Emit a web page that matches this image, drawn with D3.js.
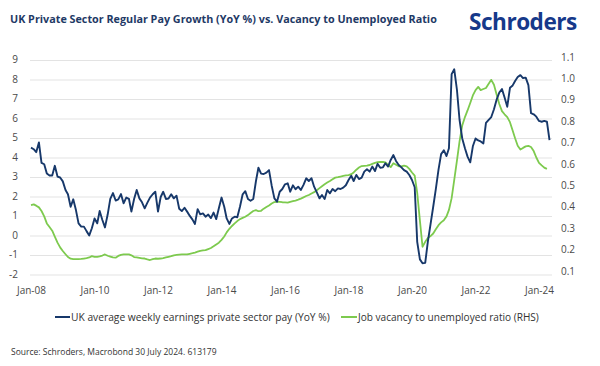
<!DOCTYPE html>
<html>
<head>
<meta charset="utf-8">
<script src="https://cdn.jsdelivr.net/npm/d3@7"></script>
<style>
  html, body { margin: 0; padding: 0; background: #fff; }
  svg { display: block; font-family: "Open Sans", "Noto Sans", sans-serif; }
</style>
</head>
<body>
<svg id="chart" width="600" height="366"></svg>
<script>
// ---------------- DATA ----------------
const startMonth = "2008-01";  // first observation (monthly series)
const payGrowth = [
  4.53, 4.45, 4.3, 4.8, 3.75, 3.68, 3.2, 3.1, 3.1, 3.6, 3.05, 3.0,
  2.8, 2.36, 2.14, 1.5, 1.88, 1.33, 0.65, 0.48, 0.48, 0.25, 0.03, 0.4,
  0.9, 0.65, 1.28, 0.82, 0.44, 1.1, 1.9, 2.2, 1.82, 1.88, 2.15, 1.68,
  1.97, 1.9, 1.25, 1.9, 2.36, 1.93, 1.73, 1.42, 1.71, 1.97, 2.14, 2.27,
  1.25, 2.0, 2.27, 1.9, 1.92, 2.14, 1.93, 2.07, 1.4, 1.28, 1.45, 1.25,
  1.03, 0.84, 0.62, 1.38, 1.11, 1.16, 0.99, 1.1, 0.92, 1.2, 0.87, 1.42,
  1.97, 1.5, 0.9, 0.62, 0.9, 0.99, 0.96, 1.5, 2.14, 2.3, 1.9, 1.81,
  1.9, 2.82, 3.5, 3.2, 3.18, 3.25, 3.38, 2.58, 1.93, 1.76, 2.27, 2.41,
  2.65, 2.7, 2.27, 2.6, 2.4, 2.53, 2.36, 2.62, 2.96, 2.82, 2.96, 2.53,
  2.24, 1.93, 2.1, 1.9, 2.36, 2.19, 2.41, 2.3, 2.44, 2.41, 2.48, 2.6,
  2.87, 3.09, 2.82, 3.13, 2.92, 2.99, 3.3, 3.42, 3.3, 3.56, 3.33, 3.7,
  3.5, 3.52, 3.73, 3.56, 3.9, 4.15, 3.85, 3.64, 3.52, 3.38, 3.3, 3.13,
  2.87, 2.5, -0.3, -1.2, -1.4, -1.38, -0.3, 0.6, 1.5, 2.4, 3.4, 4.2,
  4.4, 4.1, 4.5, 8.3, 8.55, 7.5, 5.95, 5.0, 4.5, 4.07, 3.78, 4.6,
  5.0, 4.9, 4.85, 4.75, 5.8, 5.95, 6.1, 6.5, 7.0, 7.35, 7.54, 7.1,
  6.63, 7.6, 7.7, 7.95, 8.15, 8.25, 8.1, 8.12, 7.74, 6.3, 6.24, 6.12,
  5.9, 5.86, 5.9, 5.86, 4.92
];
const vacancyRatio = [
  0.413, 0.416, 0.41, 0.402, 0.385, 0.36, 0.327, 0.31, 0.293, 0.265, 0.237, 0.215,
  0.198, 0.183, 0.17, 0.162, 0.16, 0.16, 0.16, 0.161, 0.163, 0.165, 0.168, 0.174,
  0.171, 0.171, 0.173, 0.177, 0.182, 0.176, 0.172, 0.168, 0.167, 0.175, 0.18, 0.182,
  0.182, 0.182, 0.178, 0.17, 0.168, 0.166, 0.164, 0.163, 0.159, 0.156, 0.16, 0.163,
  0.162, 0.163, 0.165, 0.168, 0.171, 0.174, 0.178, 0.18, 0.181, 0.182, 0.182, 0.182,
  0.185, 0.188, 0.191, 0.195, 0.199, 0.201, 0.202, 0.207, 0.212, 0.22, 0.229, 0.237,
  0.25, 0.266, 0.285, 0.302, 0.315, 0.327, 0.338, 0.347, 0.353, 0.358, 0.366, 0.376,
  0.385, 0.389, 0.384, 0.386, 0.396, 0.404, 0.411, 0.42, 0.427, 0.428, 0.428, 0.426,
  0.425, 0.424, 0.428, 0.431, 0.434, 0.438, 0.443, 0.449, 0.455, 0.46, 0.467, 0.473,
  0.482, 0.492, 0.501, 0.51, 0.518, 0.525, 0.533, 0.541, 0.543, 0.546, 0.549, 0.551,
  0.553, 0.557, 0.565, 0.578, 0.588, 0.595, 0.596, 0.597, 0.6, 0.605, 0.61, 0.613,
  0.615, 0.614, 0.612, 0.6, 0.59, 0.608, 0.601, 0.594, 0.594, 0.597, 0.594, 0.582,
  0.565, 0.55, 0.47, 0.34, 0.218, 0.241, 0.259, 0.268, 0.28, 0.3, 0.319, 0.332,
  0.342, 0.36, 0.39, 0.445, 0.53, 0.62, 0.71, 0.785, 0.824, 0.855, 0.89, 0.925,
  0.95, 0.965, 0.95, 0.955, 0.96, 0.98, 0.998, 0.975, 0.928, 0.885, 0.852, 0.837,
  0.824, 0.8, 0.765, 0.725, 0.69, 0.672, 0.68, 0.687, 0.689, 0.684, 0.665, 0.635,
  0.61, 0.598, 0.588, 0.582
];
const leftTicks = [-2, -1, 0, 1, 2, 3, 4, 5, 6, 7, 8, 9];
const rightTicks = [0.1, 0.2, 0.3, 0.4, 0.5, 0.6, 0.7, 0.8, 0.9, 1.0, 1.1];
const xTickYears = [2008, 2010, 2012, 2014, 2016, 2018, 2020, 2022, 2024];
const seriesNames = [
  "UK average weekly earnings private sector pay (YoY %)",
  "Job vacancy to unemployed ratio (RHS)"
];
const titleText = "UK Private Sector Regular Pay Growth (YoY %) vs. Vacancy to Unemployed Ratio";
const logoText = "Schroders";
const sourceText = "Source: Schroders, Macrobond 30 July 2024. 613179";

// ---------------- STYLE ----------------
const NAVY = "#17386a";
const GREEN = "#7dca4e";
const GRID = "#e3e3e3";
const TXT = "#4a4a4a";

const svg = d3.select("#chart");
const parse = d3.timeParse("%Y-%m");
const t0 = parse(startMonth);
const dateAt = i => d3.timeMonth.offset(t0, i);

const x = d3.scaleTime()
  .domain([new Date(2008, 0, 1), new Date(2024, 0, 1)])
  .range([31, 539]);
const yL = d3.scaleLinear().domain([-2, 9]).range([275, 60.5]);
const yR = d3.scaleLinear().domain([0.1, 1.1]).range([272, 58]);

const gridX0 = 30, gridX1 = 552;

function fit(sel, target) {
  const node = sel.node();
  const fs = parseFloat(sel.attr("font-size"));
  const w = node.getComputedTextLength();
  if (w > 0) sel.attr("font-size", (fs * target / w).toFixed(2));
  return sel;
}

// gridlines
svg.append("g").selectAll("line").data(leftTicks).join("line")
  .attr("x1", gridX0).attr("x2", gridX1)
  .attr("y1", d => yL(d)).attr("y2", d => yL(d))
  .attr("stroke", GRID).attr("stroke-width", 1);

// left axis
const gL = svg.append("g").attr("transform", `translate(${gridX0},0)`)
  .call(d3.axisLeft(yL).tickValues(leftTicks).tickSize(0).tickPadding(12)
    .tickFormat(d => String(d)));
gL.select(".domain").remove();
gL.selectAll("text").attr("font-size", 10).attr("fill", TXT)
  .attr("font-family", "'Open Sans', sans-serif").attr("dy", "0.2em");

// right axis
const gR = svg.append("g").attr("transform", `translate(${gridX1},0)`)
  .call(d3.axisRight(yR).tickValues(rightTicks).tickSize(0).tickPadding(9)
    .tickFormat(d3.format(".1f")));
gR.select(".domain").remove();
gR.selectAll("text").attr("font-size", 10).attr("fill", TXT)
  .attr("font-family", "'Open Sans', sans-serif").attr("dy", "0.2em");

// x axis
const gX = svg.append("g").attr("transform", "translate(0,283)")
  .call(d3.axisBottom(x).tickValues(xTickYears.map(yv => new Date(yv, 0, 1)))
    .tickSize(0).tickPadding(0).tickFormat(d3.timeFormat("%b-%y")));
gX.select(".domain").remove();
gX.selectAll("text").attr("font-size", 10).attr("fill", TXT)
  .attr("font-family", "'Open Sans', sans-serif").attr("y", 7).attr("dy", "0.35em");

// lines
const lineL = d3.line().x((d, i) => x(dateAt(i))).y(d => yL(d));
const lineR = d3.line().x((d, i) => x(dateAt(i))).y(d => yR(d));

svg.append("path").datum(vacancyRatio)
  .attr("d", lineR).attr("fill", "none")
  .attr("stroke", GREEN).attr("stroke-width", 1.8).attr("stroke-linejoin", "round");
svg.append("path").datum(payGrowth)
  .attr("d", lineL).attr("fill", "none")
  .attr("stroke", NAVY).attr("stroke-width", 1.9).attr("stroke-linejoin", "round");

// title
fit(svg.append("text").attr("x", 10).attr("y", 22.5)
  .attr("font-size", 11).attr("font-weight", 700).attr("fill", "#1f3a66")
  .attr("font-family", "'Open Sans', sans-serif")
  .text(titleText), 427);

// logo
fit(svg.append("text").attr("x", 469).attr("y", 30)
  .attr("font-size", 24).attr("font-weight", 700).attr("fill", "#16398a")
  .attr("font-family", "'Open Sans', sans-serif").attr("letter-spacing", "-0.5")
  .text(logoText), 108);

// legend
const legend = [
  { name: seriesNames[0], color: NAVY, x0: 55, x1: 70, tx: 71, w: 259 },
  { name: seriesNames[1], color: GREEN, x0: 341, x1: 357, tx: 358, w: 181 }
];
legend.forEach(l => {
  svg.append("line").attr("x1", l.x0).attr("x2", l.x1).attr("y1", 317).attr("y2", 317)
    .attr("stroke", l.color).attr("stroke-width", 2);
  fit(svg.append("text").attr("x", l.tx).attr("y", 317).attr("dy", "0.35em")
    .attr("font-size", 10).attr("fill", "#333")
    .attr("font-family", "'Open Sans', sans-serif").text(l.name), l.w);
});

// source
fit(svg.append("text").attr("x", 11).attr("y", 352).attr("dy", "0.35em")
  .attr("font-size", 9).attr("fill", "#333")
  .attr("font-family", "'Open Sans', sans-serif").text(sourceText), 206);
</script>
</body>
</html>
